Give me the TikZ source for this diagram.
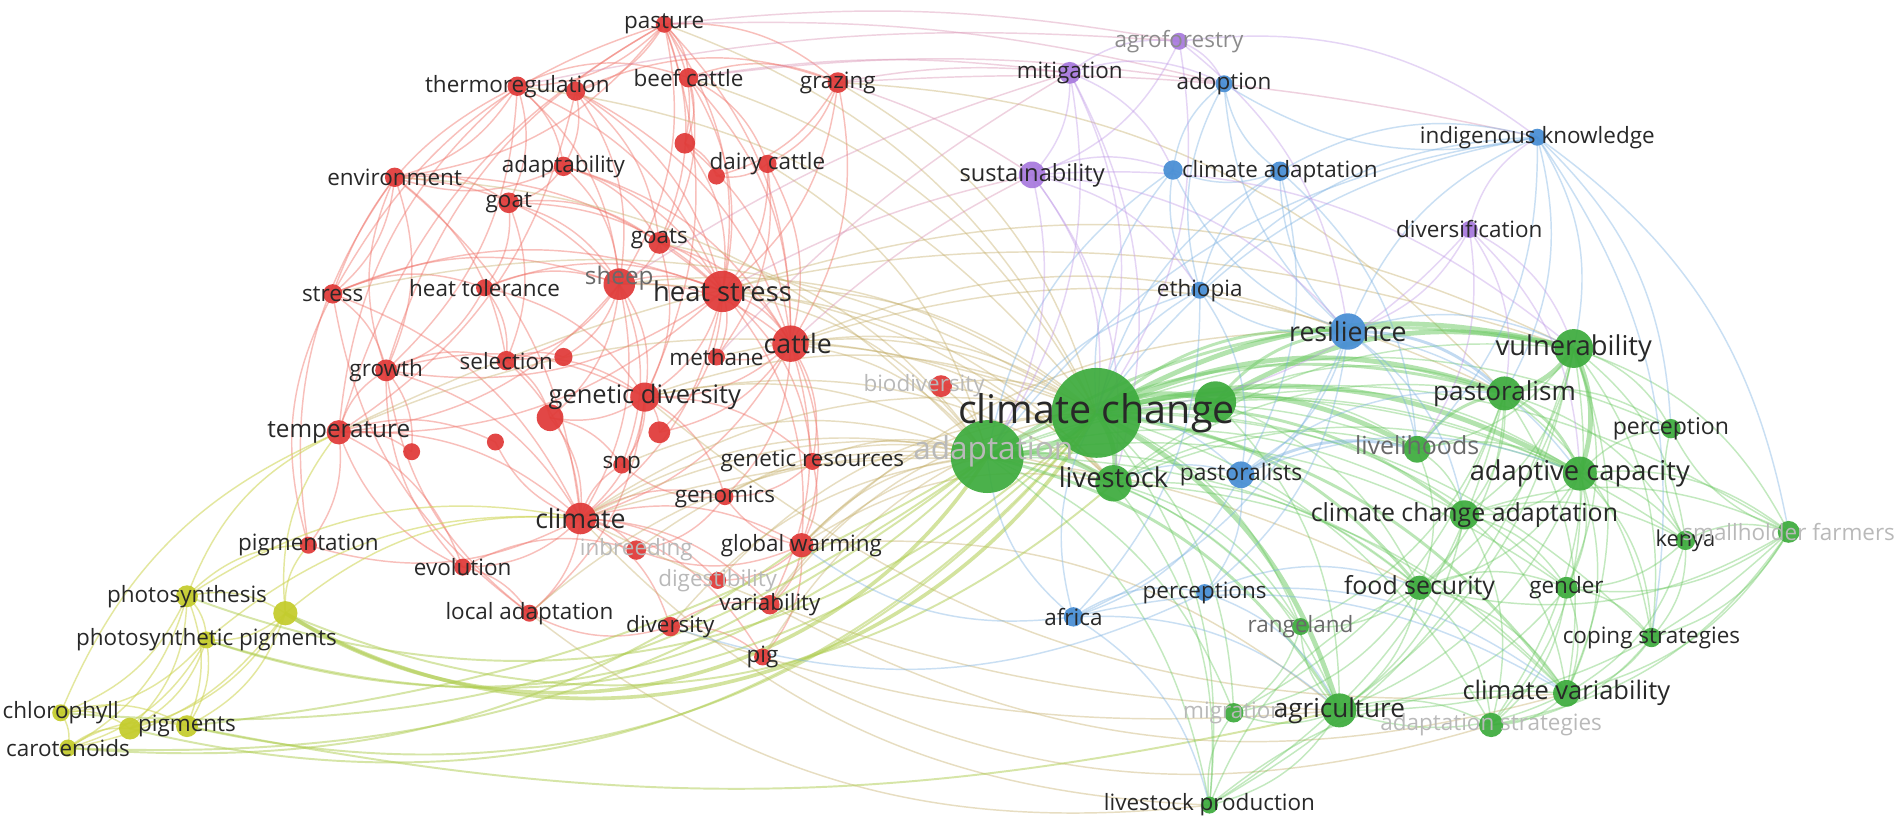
\documentclass[tikz,border=0pt]{standalone}
\usepackage{fontspec}
\setmainfont{Open Sans}
\pgfdeclarelayer{bg}
\pgfdeclarelayer{edges}
\pgfdeclarelayer{labels}
\pgfsetlayers{bg,edges,main,labels}
\definecolor{nred}{RGB}{224,58,56}
\definecolor{ngreen}{RGB}{62,172,62}
\definecolor{nblue}{RGB}{72,142,212}
\definecolor{npurple}{RGB}{168,122,222}
\definecolor{nyellow}{RGB}{196,204,44}
\definecolor{ered}{RGB}{240,115,105}
\definecolor{egreen}{RGB}{105,200,95}
\definecolor{eblue}{RGB}{120,175,225}
\definecolor{epurple}{RGB}{190,150,230}
\definecolor{eyellow}{RGB}{205,212,80}
\definecolor{ergc}{RGB}{195,172,100}
\definecolor{erpc}{RGB}{215,140,175}
\definecolor{eygc}{RGB}{175,205,80}
\definecolor{tx}{RGB}{40,40,40}
\definecolor{txm}{RGB}{105,105,105}
\definecolor{txa}{RGB}{140,140,140}
\definecolor{txf}{RGB}{185,185,185}
\tikzset{
  dot/.style={circle,inner sep=0pt,draw=none,fill opacity=0.93},
  lbl/.style={inner sep=0pt},
  lk/.style={line width=1.2pt,draw opacity=0.4,bend left=22},
  er/.style={lk,draw=ered,draw opacity=0.45},
  erg/.style={lk,draw=ergc},
  erp/.style={lk,draw=erpc,bend left=8},
  eg/.style={lk,draw=egreen},
  egM/.style={lk,draw=egreen,line width=2.4pt,draw opacity=0.45},
  egT/.style={lk,draw=egreen,line width=4pt,draw opacity=0.5},
  eb/.style={lk,draw=eblue},
  ebM/.style={lk,draw=eblue,line width=2.4pt,draw opacity=0.45},
  ep/.style={lk,draw=epurple},
  ey/.style={lk,draw=eyellow,draw opacity=0.55},
  eyg/.style={lk,draw=eygc,line width=1.6pt,draw opacity=0.5,bend left=32},
  eygT/.style={lk,draw=eygc,line width=3pt,draw opacity=0.55,bend left=45},
}
\newcommand\nd[5]{\node[dot,fill=#5,minimum size=#4pt] (#1) at (#2,#3) {};}
\newcommand\lb[5][]{\node[lbl,text=#5,font=\fontsize{#4}{#4}\selectfont,#1] (l-#2) at (#2) {#3};}
\newcommand\links[2]{\foreach \ea/\eb in {#2} \draw[#1] (\ea.center) to (\eb.center);}
\begin{document}
\begin{tikzpicture}[x=1pt,y=-1pt]
\begin{pgfonlayer}{bg}
\fill[white] (0,0) rectangle (1568,681);
\end{pgfonlayer}
\useasboundingbox (0,0) rectangle (1568,681);
% ---------- green nodes
\nd{cc}{903}{340}{74}{ngreen}
\nd{adp}{813}{376}{60}{ngreen}
\nd{gx1}{1001}{331}{34}{ngreen}
\nd{lvs}{917}{398}{30}{ngreen}
\nd{vul}{1296}{287}{32}{ngreen}
\nd{pst}{1239}{324}{28}{ngreen}
\nd{lvh}{1167}{370}{22}{ngreen}
\nd{pcp}{1376}{353}{16}{ngreen}
\nd{ac}{1301}{390}{28}{ngreen}
\nd{cca}{1206}{424}{24}{ngreen}
\nd{ken}{1388}{445}{16}{ngreen}
\nd{shf}{1473}{438}{18}{ngreen}
\nd{fs}{1169}{484}{20}{ngreen}
\nd{gnd}{1290}{484}{18}{ngreen}
\nd{rng}{1071}{516}{14}{ngreen}
\nd{cs}{1360}{525}{16}{ngreen}
\nd{cv}{1290}{571}{22}{ngreen}
\nd{mig}{1016}{587}{16}{ngreen}
\nd{agr}{1103}{585}{28}{ngreen}
\nd{ast}{1228}{597}{20}{ngreen}
\nd{lp}{996}{663}{14}{ngreen}
% ---------- blue nodes
\nd{ado}{1008}{69}{14}{nblue}
\nd{ca1}{966}{140}{16}{nblue}
\nd{ca2}{1054}{141}{16}{nblue}
\nd{ik}{1266}{113}{14}{nblue}
\nd{eth}{988}{239}{14}{nblue}
\nd{res}{1110}{273}{30}{nblue}
\nd{pts}{1022}{391}{22}{nblue}
\nd{pcs}{992}{488}{14}{nblue}
\nd{afr}{884}{508}{16}{nblue}
% ---------- purple nodes
\nd{agf}{971}{34}{14}{npurple}
\nd{mit}{881}{60}{18}{npurple}
\nd{sus}{850}{144}{22}{npurple}
\nd{dvf}{1210}{189}{14}{npurple}
% ---------- yellow nodes
\nd{phs}{154}{491}{18}{nyellow}
\nd{yx1}{235}{505}{20}{nyellow}
\nd{pp}{170}{527}{14}{nyellow}
\nd{chl}{50}{587}{14}{nyellow}
\nd{car}{56}{616}{14}{nyellow}
\nd{yx2}{107}{600}{18}{nyellow}
\nd{pgs}{154}{598}{18}{nyellow}
% ---------- red nodes
\nd{pas}{547}{20}{14}{nred}
\nd{thr}{426}{71}{16}{nred}
\nd{thx}{474}{75}{16}{nred}
\nd{bee}{567}{64}{16}{nred}
\nd{gra}{690}{68}{17}{nred}
\nd{rx1}{564}{118}{17}{nred}
\nd{ada}{464}{137}{16}{nred}
\nd{dai}{632}{135}{15}{nred}
\nd{rx2}{590}{145}{14}{nred}
\nd{env}{325}{146}{16}{nred}
\nd{goa}{419}{167}{17}{nred}
\nd{gts}{543}{200}{18}{nred}
\nd{str}{274}{242}{16}{nred}
\nd{het}{399}{237}{14}{nred}
\nd{she}{510}{234}{26}{nred}
\nd{hs}{595}{240}{34}{nred}
\nd{cat}{651}{283}{30}{nred}
\nd{met}{590}{294}{14}{nred}
\nd{gro}{318}{305}{18}{nred}
\nd{sel}{417}{297}{16}{nred}
\nd{rx3}{464}{294}{15}{nred}
\nd{gd}{531}{327}{24}{nred}
\nd{bio}{775}{318}{18}{nred}
\nd{tem}{279}{356}{20}{nred}
\nd{rx4}{339}{372}{14}{nred}
\nd{rx5}{408}{364}{14}{nred}
\nd{rx6}{453}{344}{22}{nred}
\nd{rx7}{543}{356}{18}{nred}
\nd{snp}{512}{383}{14}{nred}
\nd{gr}{669}{380}{14}{nred}
\nd{gen}{597}{409}{14}{nred}
\nd{cli}{478}{427}{26}{nred}
\nd{pgm}{254}{449}{14}{nred}
\nd{inb}{524}{453}{16}{nred}
\nd{gw}{660}{449}{20}{nred}
\nd{evo}{381}{467}{14}{nred}
\nd{dig}{591}{478}{14}{nred}
\nd{la}{436}{505}{14}{nred}
\nd{var}{634}{498}{16}{nred}
\nd{div}{552}{516}{16}{nred}
\nd{pig}{628}{541}{14}{nred}
% ================= edges
\begin{pgfonlayer}{edges}
\links{er}{pas/thr,pas/thx,pas/bee,pas/gra,pas/hs,pas/she,pas/gd,pas/cat,pas/gts,pas/rx1,pas/env,
thr/env,thr/goa,thr/she,thr/hs,thr/ada,thr/gro,thr/bee,
thx/ada,thx/hs,thx/she,thx/cat,thx/gts,thx/gra,thx/tem,
bee/hs,bee/cat,bee/rx1,bee/dai,bee/gra,bee/gts,
gra/cat,gra/hs,gra/dai,gra/rx2,rx1/hs,rx1/rx2,rx1/cat,
ada/she,ada/hs,ada/goa,ada/gts,ada/cat,ada/env,
dai/cat,dai/hs,dai/rx2,dai/met,
env/str,env/gro,env/she,env/hs,env/goa,env/sel,env/cli,
goa/she,goa/hs,goa/gts,goa/het,goa/sel,
gts/she,gts/hs,gts/cat,gts/gd,
str/het,str/gro,str/hs,str/she,str/cli,
het/she,het/hs,het/sel,het/gro,het/gd,
she/hs,she/cat,she/gd,she/sel,she/rx3,she/rx6,she/cli,she/tem,she/snp,
hs/cat,hs/met,hs/gd,hs/rx7,hs/cli,hs/gro,hs/tem,hs/gw,hs/gr,
cat/met,cat/gd,cat/gr,cat/gw,cat/gen,cat/rx7,cat/cli,cat/var,
gro/sel,gro/gd,gro/cli,gro/rx4,sel/rx3,sel/gd,sel/rx6,sel/cli,
gd/rx6,gd/rx7,gd/snp,gd/gr,gd/gen,gd/cli,gd/la,
tem/rx4,tem/rx5,tem/cli,tem/evo,tem/pgm,tem/gro,rx6/cli,rx6/snp,
cli/snp,cli/gen,cli/gw,cli/inb,cli/dig,cli/evo,cli/la,cli/div,cli/var,cli/pig,cli/pgm,cli/rx5,
gw/var,gw/pig,gw/gen,gw/dig,gw/inb,gen/snp,gen/inb,div/la,div/var,div/pig,evo/la,evo/inb,gr/gen,gr/gw,
tem/pas,str/thr,gro/env,pgm/env,la/str,evo/gro,str/pas,tem/thr,gro/pas,pgm/str,la/gro,evo/tem}
\links{erg}{cat/cc,cat/adp,hs/cc,hs/adp,gra/cc,gra/pst,cli/cc,cli/adp,gd/cc,gd/adp,gw/cc,gw/adp,tem/cc,bio/cc,bio/adp,gr/adp,bio/lvs,she/cc,she/lvs,cat/lvs,gts/adp,var/cc,pig/cc,div/adp,la/adp,gw/agr,tem/vul,cli/fs,gw/res,str/cc,env/adp,thr/cc,pas/cc,bee/cc,dai/adp,met/cc,cat/res,gd/lvs,hs/lvs,cat/pst,gw/lvs,cli/lvs,snp/adp,gen/adp,var/adp,inb/adp,dig/cc,hs/vul,
lp/la,ast/pig,cv/var,lp/cli,cv/gd}
\links{erg,bend left=12}{agr/div,agr/cli}
\links{erp}{gra/mit,bee/mit,hs/sus,cat/sus,gra/sus,pas/agf,met/mit,gra/ik,bee/ado,she/mit,thr/agf,pas/ado}
\links{ey}{phs/yx1,phs/pp,phs/chl,phs/car,phs/yx2,phs/pgs,phs/pgm,yx1/pp,yx1/pgs,yx1/yx2,yx1/pgm,yx1/car,pp/pgs,pp/yx2,pp/chl,pp/car,chl/car,chl/yx2,chl/pgs,car/yx2,car/pgs,yx2/pgs,
phs/tem,phs/cli,yx1/cli,yx1/tem,chl/tem,pp/cli}
\links{eyg}{adp/pp,cc/pgs,cc/yx2,cc/phs,lvs/yx1,cc/pp}
\links{eyg,bend left=20}{adp/car,gw/car,adp/chl}
\links{eyg,bend left=12}{agr/pgs,adp/pgs}
\links{eygT}{cc/yx1,adp/yx1}
\links{eg}{cc/ken,cc/pcp,cc/shf,cc/cs,cc/rng,cc/mig,cc/lp,cc/gnd,cc/ast,
adp/ac,adp/cv,adp/fs,adp/cca,adp/lvh,adp/gnd,adp/lp,adp/mig,adp/rng,
gx1/pst,gx1/ac,gx1/lvh,gx1/fs,gx1/agr,
lvs/vul,lvs/pst,lvs/lvh,lvs/ac,lvs/fs,lvs/agr,lvs/cv,lvs/lp,lvs/rng,
vul/pcp,vul/lvh,vul/cca,vul/fs,vul/gnd,vul/ken,vul/shf,vul/cs,vul/cv,vul/agr,vul/ast,
pst/pcp,pst/cca,pst/cs,pst/cv,pst/ken,pst/fs,pst/rng,pst/mig,
lvh/ac,lvh/cca,lvh/fs,
ac/pcp,ac/ken,ac/cca,ac/fs,ac/gnd,ac/cs,ac/cv,ac/shf,ac/ast,ac/agr,
cca/fs,cca/gnd,cca/ken,cca/cv,cca/ast,cca/agr,cca/shf,
ken/shf,ken/cs,ken/gnd,ken/pcp,ken/cv,
shf/pcp,shf/cs,shf/gnd,shf/cv,shf/fs,shf/agr,shf/ast,
fs/gnd,fs/agr,fs/cv,fs/ast,fs/rng,fs/mig,
gnd/cs,gnd/cv,gnd/ast,gnd/agr,
cs/cv,cs/ast,cv/agr,cv/ast,agr/ast,agr/mig,agr/lp,agr/rng,
lp/mig,lp/cv,lp/fs,rng/mig,pst/lp,vul/lp}
\links{egM}{cc/res,cc/fs,cc/cca,pst/ac,cc/cv,adp/pst,adp/vul,adp/agr,lvh/pst,gx1/res}
\links{egT}{cc/adp,cc/gx1,cc/lvs,cc/vul,cc/pst,cc/ac,cc/agr,cc/lvh,adp/lvs,gx1/vul,vul/pst,vul/ac}
\links{eb}{res/eth,res/ca1,res/ca2,res/ik,res/ado,res/pts,res/afr,res/pcs,res/vul,res/lvh,res/ac,res/cca,
eth/ca1,eth/ca2,eth/ado,eth/pts,eth/afr,eth/ik,
ca2/ado,ca2/ca1,ca2/ik,ca2/pts,ca2/lvh,ca1/ado,
ik/ado,ik/vul,ik/pst,ik/lvh,ik/pcp,ik/shf,ik/cs,
pts/afr,pts/pcs,pts/pst,pts/ac,cc/pts,lvs/pts,
afr/pcs,afr/agr,afr/lp,afr/cv,afr/cc,afr/adp,pcs/agr,pcs/cv,pcs/fs,
cc/eth,cc/ca1,cc/ca2,cc/ik,adp/eth,adp/ca1,adp/ik,afr/gw,pcs/div}
\links{ebM}{res/pst,pts/lvh}
\links{ep}{mit/agf,mit/sus,mit/ado,mit/ca1,mit/lvs,mit/adp,mit/cc,
agf/sus,agf/ado,agf/ik,agf/res,agf/cc,
sus/ca1,sus/res,sus/lvs,sus/adp,sus/vul,sus/eth,sus/cc,
dvf/res,dvf/vul,dvf/pst,dvf/ac,dvf/lvh,dvf/ik,dvf/cc}
\end{pgfonlayer}
% ================= labels
\begin{pgfonlayer}{labels}
\lb{pas}{pasture}{18.5}{tx}
\lb{thr}{thermoregulation}{18.5}{tx}
\lb{bee}{beef cattle}{18.5}{tx}
\lb{gra}{grazing}{18.5}{tx}
\lb{ada}{adaptability}{18.5}{tx}
\lb{dai}{dairy cattle}{18.5}{tx}
\lb{env}{environment}{18.5}{tx}
\lb{goa}{goat}{18.5}{tx}
\lb[yshift=3pt]{gts}{goats}{18.5}{tx}
\lb{str}{stress}{18.5}{tx}
\lb{het}{heat tolerance}{18.5}{tx}
\lb[yshift=5pt]{she}{sheep}{20}{txm}
\lb{hs}{heat stress}{22.5}{tx}
\lb[xshift=6pt]{cat}{cattle}{22}{tx}
\lb{met}{methane}{18.5}{tx}
\lb{gro}{growth}{18.5}{tx}
\lb{sel}{selection}{18.5}{tx}
\lb{gd}{genetic diversity}{21}{tx}
\lb[xshift=-14pt]{bio}{biodiversity}{18.5}{txf}
\lb{tem}{temperature}{20}{tx}
\lb{snp}{snp}{18.5}{tx}
\lb{gr}{genetic resources}{18.5}{tx}
\lb{gen}{genomics}{18.5}{tx}
\lb{cli}{climate}{22}{tx}
\lb{pgm}{pigmentation}{18.5}{tx}
\lb{inb}{inbreeding}{18.5}{txf}
\lb{gw}{global warming}{18.5}{tx}
\lb{evo}{evolution}{18.5}{tx}
\lb{dig}{digestibility}{18.5}{txf}
\lb{la}{local adaptation}{18.5}{tx}
\lb{var}{variability}{18.5}{tx}
\lb{div}{diversity}{18.5}{tx}
\lb{pig}{pig}{18.5}{tx}
\lb{phs}{photosynthesis}{18.5}{tx}
\lb{pp}{photosynthetic pigments}{18.5}{tx}
\lb{chl}{chlorophyll}{18.5}{tx}
\lb{car}{carotenoids}{18.5}{tx}
\lb{pgs}{pigments}{18.5}{tx}
\lb{agf}{agroforestry}{18.5}{txa}
\lb{mit}{mitigation}{18.5}{tx}
\lb{sus}{sustainability}{19.5}{tx}
\lb{dvf}{diversification}{18.5}{tx}
\lb{ado}{adoption}{18.5}{tx}
\lb{ca2}{climate adaptation}{18.5}{tx}
\lb{ik}{indigenous knowledge}{18.5}{tx}
\lb{eth}{ethiopia}{18.5}{tx}
\lb{res}{resilience}{22}{tx}
\lb{pts}{pastoralists}{18.8}{tx}
\lb{pcs}{perceptions}{18.5}{tx}
\lb{afr}{africa}{18.5}{tx}
\lb[xshift=5pt,yshift=4pt]{adp}{adaptation}{26}{txf}
\lb{cc}{climate change}{32.5}{tx}
\lb[yshift=5pt]{lvs}{livestock}{22.5}{tx}
\lb{vul}{vulnerability}{22.5}{tx}
\lb{pst}{pastoralism}{21.5}{tx}
\lb[yshift=3pt]{lvh}{livelihoods}{20.5}{txm}
\lb{pcp}{perception}{19}{tx}
\lb{ac}{adaptive capacity}{22.5}{tx}
\lb{cca}{climate change adaptation}{20.5}{tx}
\lb{ken}{kenya}{18}{tx}
\lb{shf}{smallholder farmers}{18.5}{txf}
\lb{fs}{food security}{20.5}{tx}
\lb{gnd}{gender}{18.5}{tx}
\lb{rng}{rangeland}{18.5}{txm}
\lb{cs}{coping strategies}{18.5}{tx}
\lb{cv}{climate variability}{21}{tx}
\lb{mig}{migration}{18.5}{txf}
\lb{agr}{agriculture}{21.5}{tx}
\lb{ast}{adaptation strategies}{18.5}{txf}
\lb{lp}{livestock production}{18.5}{tx}
\end{pgfonlayer}
\end{tikzpicture}
\end{document}
